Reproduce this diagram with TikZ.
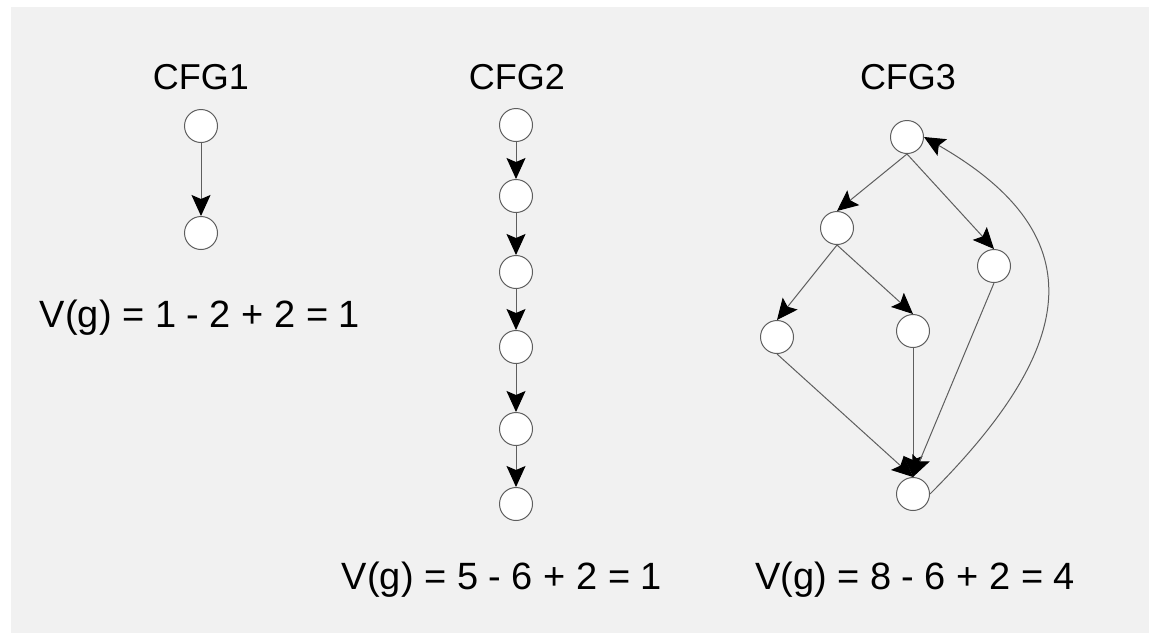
\documentclass[tikz,border=0pt]{standalone}
\usepackage{fontspec}
\setmainfont{Liberation Sans}
\usetikzlibrary{arrows.meta}
\definecolor{bggray}{HTML}{F1F1F1}
\definecolor{edgegray}{HTML}{5E5E5E}
\begin{document}
\begin{tikzpicture}[x=1pt,y=-1pt,
  vtx/.style={circle,draw=edgegray,fill=white,line width=1pt,minimum size=33pt,inner sep=0pt},
  flow/.style={draw=edgegray,line width=1pt,-{Stealth[length=21pt,width=19pt,inset=4pt,color=black]}},
  ttl/.style={anchor=base,font=\fontsize{36}{40}\selectfont},
  frm/.style={anchor=base,font=\fontsize{38}{42}\selectfont}]
\useasboundingbox (0,0) rectangle (1149,633);
\fill[white] (0,0) rectangle (1149,633);
\fill[bggray] (11,7) rectangle (1149,633);
% CFG1
\node[ttl] (t1) at (201,89) {CFG1};
\node[vtx] (a1) at (201,126) {};
\node[vtx] (a2) at (201,233) {};
\draw[flow] (a1.south) -- (a2.north);
\node[frm] (f1) at (200,327) {V(g) = 1 - 2 + 2 = 1};
% CFG2
\node[ttl] (t2) at (517,89) {CFG2};
\node[vtx] (b1) at (516,125) {};
\node[vtx] (b2) at (516,196) {};
\node[vtx] (b3) at (516,272) {};
\node[vtx] (b4) at (516,347) {};
\node[vtx] (b5) at (516,429) {};
\node[vtx] (b6) at (516,504) {};
\draw[flow] (b1.south) -- (b2.north);
\draw[flow] (b2.south) -- (b3.north);
\draw[flow] (b3.south) -- (b4.north);
\draw[flow] (b4.south) -- (b5.north);
\draw[flow] (b5.south) -- (b6.north);
\node[frm] (f2) at (502,589) {V(g) = 5 - 6 + 2 = 1};
% CFG3
\node[ttl] (t3) at (908,89) {CFG3};
\node[vtx] (c1) at (907,137) {};
\node[vtx] (c2) at (837,228) {};
\node[vtx] (c3) at (994,266) {};
\node[vtx] (c4) at (777,337) {};
\node[vtx] (c5) at (913,331) {};
\node[vtx] (c6) at (913,494) {};
\draw[flow] (c1.south) -- (c2.north);
\draw[flow] (c1.south) -- (c3.north);
\draw[flow] (c2.south) -- (c4.north);
\draw[flow] (c2.south) -- (c5.north);
\draw[flow] (c4.south) -- (c6.north);
\draw[flow] (c5.south) -- (c6.north);
\draw[flow] (c3.south) -- (c6.north);
\draw[flow] (c6.east) .. controls +(143,-143) and +(176,101) .. (c1.east);
\node[frm] (f3) at (915,589) {V(g) = 8 - 6 + 2 = 4};
\end{tikzpicture}
\end{document}
